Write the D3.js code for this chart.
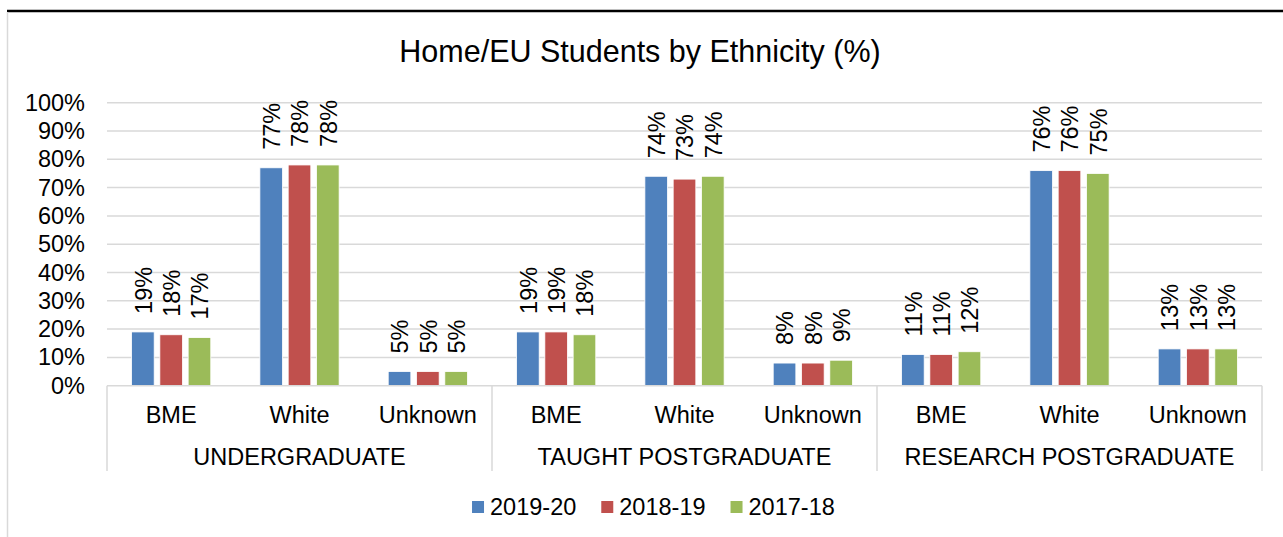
<!DOCTYPE html>
<html>
<head>
<meta charset="utf-8">
<script src="https://cdn.jsdelivr.net/npm/d3@7"></script>
<style>
	body { margin: 0; background: #fff; }
	svg { display: block; font-family: "Liberation Sans", Arial, sans-serif; }
</style>
</head>
<body>
<svg id="chart" width="1283" height="537"></svg>
<script>
// chart data
let groups = ["UNDERGRADUATE", "TAUGHT POSTGRADUATE", "RESEARCH POSTGRADUATE"];
let ethnicities = ["BME", "White", "Unknown"];
let years = ["2019-20", "2018-19", "2017-18"];
let colours = ["#4F81BD", "#C0504D", "#9BBB59"];
let yTicks = [0, 0.1, 0.2, 0.3, 0.4, 0.5, 0.6, 0.7, 0.8, 0.9, 1];

// values per year, in group/ethnicity order
let values2019 = [19, 77, 5, 19, 74, 8, 11, 76, 13];
let values2018 = [18, 78, 5, 19, 73, 8, 11, 76, 13];
let values2017 = [17, 78, 5, 18, 74, 9, 12, 75, 13];
let seriesValues = [values2019, values2018, values2017];

let svg = d3.select("#chart");
let width = 1283,
	height = 537;
let plotLeft = 107,
	plotRight = 1262,
	plotTop = 102.7,
	plotBottom = 385.7;

// frame: dark line at top, grey line on left
svg.append("line")
	.attr("x1", 7).attr("x2", width)
	.attr("y1", 11).attr("y2", 11)
	.attr("stroke", "#000").attr("stroke-width", 2.5);
svg.append("line")
	.attr("x1", 7.5).attr("x2", 7.5)
	.attr("y1", 12).attr("y2", height)
	.attr("stroke", "#d9d9d9").attr("stroke-width", 1.5);

// title
svg.append("text")
	.attr("x", 640).attr("y", 62)
	.attr("text-anchor", "middle")
	.attr("font-size", "30.5px")
	.attr("fill", "#000")
	.text("Home/EU Students by Ethnicity (%)");

// scales
let y = d3.scaleLinear().domain([0, 1]).range([plotBottom, plotTop]);
let xGroup = d3.scaleBand().domain(groups).range([plotLeft, plotRight]);
let xEth = d3.scaleBand().domain(ethnicities).range([0, xGroup.bandwidth()]);
let xYear = d3.scaleBand().domain(years).range([0, xEth.bandwidth()])
	.paddingInner(0.2).paddingOuter(0.867);

// gridlines
svg.append("g")
	.selectAll("line")
	.data(yTicks.filter(d => d > 0))
	.join("line")
	.attr("x1", plotLeft).attr("x2", plotRight)
	.attr("y1", d => y(d)).attr("y2", d => y(d))
	.attr("stroke", "#d9d9d9").attr("stroke-width", 1.5);

// y axis labels
let yAxis = svg.append("g")
	.attr("transform", `translate(${plotLeft - 22},0)`)
	.call(d3.axisLeft(y).tickValues(yTicks).tickFormat(d3.format(".0%")).tickSize(0).tickPadding(0));
yAxis.select(".domain").remove();
yAxis.selectAll("text")
	.attr("font-size", "23.5px")
	.attr("font-family", "\"Liberation Sans\", Arial, sans-serif")
	.attr("fill", "#000");

// flatten to bars
let bars = [];
groups.forEach((g, gi) => {
	ethnicities.forEach((e, ei) => {
		years.forEach((yr, yi) => {
			bars.push({group: g, eth: e, year: yr, colour: colours[yi], value: seriesValues[yi][gi * 3 + ei] / 100});
		});
	});
});
let barX = d => xGroup(d.group) + xEth(d.eth) + xYear(d.year);

svg.append("g")
	.selectAll("rect")
	.data(bars)
	.join("rect")
	.attr("x", d => barX(d))
	.attr("y", d => y(d.value))
	.attr("width", xYear.bandwidth())
	.attr("height", d => y(0) - y(d.value))
	.attr("fill", d => d.colour)
	.attr("stroke", "#fff").attr("stroke-width", 0.8);

// data labels, rotated
svg.append("g")
	.selectAll("text")
	.data(bars)
	.join("text")
	.attr("transform", d => `translate(${barX(d) + xYear.bandwidth() / 2 + 0.5},${y(d.value) - 18}) rotate(-90)`)
	.attr("dy", "0.36em")
	.attr("font-size", "23.5px")
	.attr("fill", "#000")
	.text(d => d3.format(".0%")(d.value));

// category axis
svg.append("line")
	.attr("x1", plotLeft).attr("x2", plotRight)
	.attr("y1", plotBottom).attr("y2", plotBottom)
	.attr("stroke", "#d9d9d9").attr("stroke-width", 1.5);
svg.append("g")
	.selectAll("line")
	.data(groups.map(g => xGroup(g)).concat([plotRight]))
	.join("line")
	.attr("x1", d => d).attr("x2", d => d)
	.attr("y1", plotBottom).attr("y2", 471)
	.attr("stroke", "#d9d9d9").attr("stroke-width", 1.5);

let cats = [];
groups.forEach(g => ethnicities.forEach(e => cats.push({group: g, eth: e})));
svg.append("g")
	.selectAll("text")
	.data(cats)
	.join("text")
	.attr("x", d => xGroup(d.group) + xEth(d.eth) + xEth.bandwidth() / 2)
	.attr("y", 422.5)
	.attr("text-anchor", "middle")
	.attr("font-size", "23.5px")
	.attr("fill", "#000")
	.text(d => d.eth);

svg.append("g")
	.selectAll("text")
	.data(groups)
	.join("text")
	.attr("x", d => xGroup(d) + xGroup.bandwidth() / 2)
	.attr("y", 465)
	.attr("text-anchor", "middle")
	.attr("font-size", "23.5px")
	.attr("fill", "#000")
	.text(d => d);

// legend
let legend = svg.append("g");
let items = legend.selectAll("g")
	.data(years)
	.join("g");
items.append("rect")
	.attr("width", 12).attr("height", 12)
	.attr("y", 501)
	.attr("fill", (d, i) => colours[i]);
items.append("text")
	.attr("x", 18).attr("y", 515)
	.attr("font-size", "23.5px")
	.attr("fill", "#000")
	.text(d => d);
let offset = 0, offsets = [];
items.each(function(d) {
	offsets.push(offset);
	offset += 18 + d3.select(this).select("text").node().getComputedTextLength() + 25;
});
let total = offset - 25;
items.attr("transform", (d, i) => `translate(${653.4 - total / 2 + offsets[i]},0)`);
</script>
</body>
</html>
